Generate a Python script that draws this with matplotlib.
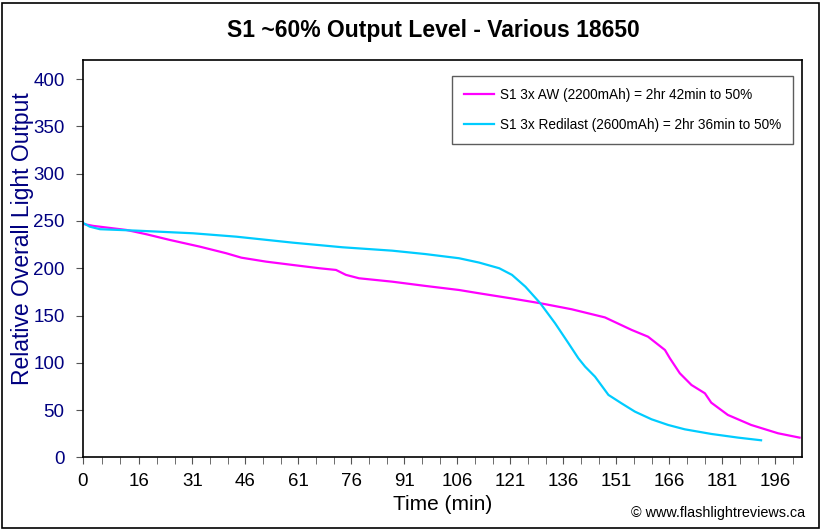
import matplotlib.pyplot as plt
from matplotlib.patches import Rectangle

# AW 2200mAh (magenta)
aw_t = [0, 3, 12.4, 18, 24.6, 33.1, 40.6, 44.9, 51.9, 59.4, 67, 71.7, 74.5, 78.2,
        87.6, 97, 106.5, 112.2, 121.5, 129.5, 138.4, 147.8, 155.4, 160, 164.8,
        166.2, 169, 172.3, 176.1, 177.9, 182.6, 189.2, 196.8, 202.9]
aw_v = [247, 244.8, 240.5, 236, 230, 222.9, 215.9, 211.2, 207, 203.5, 200, 198.2,
        193, 189.4, 185.8, 181.3, 177, 173.5, 168, 163, 156.6, 148, 134.7, 127.6,
        113.5, 104.7, 88.9, 76.5, 67.7, 57.8, 44.8, 34.2, 25.4, 20.8]

# Redilast 2600mAh (cyan)
rl_t = [0, 2, 4.9, 15.2, 31.2, 43.5, 59.4, 73.5, 87.6, 97, 106.5, 112.2, 117.9,
        121.5, 125.3, 129.5, 133.7, 137.5, 140.3, 142.2, 145, 148.8, 152.5, 156.3,
        161, 165.7, 170.4, 177.9, 185.5, 192]
rl_v = [248.2, 244, 241.3, 239.8, 237, 233.4, 227.1, 222.2, 218.6, 215, 210.6, 206,
        200, 193, 180.5, 163, 141.8, 120.6, 104.7, 95.9, 85.3, 66, 57.1, 48.3,
        40.2, 34.2, 29.6, 24.7, 20.8, 18]

x_labels = [0, 16, 31, 46, 61, 76, 91, 106, 121, 136, 151, 166, 181, 196]
y_ticks = [0, 50, 100, 150, 200, 250, 300, 350, 400]

navy = '#000080'
plt.rcParams['font.family'] = ['Liberation Sans', 'DejaVu Sans']

fig = plt.figure(figsize=(8.22, 5.30), dpi=100)
ax = fig.add_axes([0.1006, 0.1372, 0.9753 - 0.1006, 0.8862 - 0.1372])

ax.plot(aw_t, aw_v, color='#FF00FF', lw=1.6,
        label='S1 3x AW (2200mAh) = 2hr 42min to 50%')
ax.plot(rl_t, rl_v, color='#00CCFF', lw=1.6,
        label='S1 3x Redilast (2600mAh) = 2hr 36min to 50%')

ax.set_xlim(0, 203.5)
ax.set_ylim(0, 420)

minor = []
for a, b in zip(x_labels[:-1], x_labels[1:]):
    minor += [a + (b - a) / 3, a + 2 * (b - a) / 3]
minor.append(196 + 5)
ax.set_xticks(x_labels)
ax.set_xticklabels([str(v) for v in x_labels], fontsize=13.5)
ax.set_xticks(minor, minor=True)
ax.tick_params(axis='x', which='both', direction='out', length=5, color='#555555', pad=6)

ax.set_yticks(y_ticks)
ax.set_yticklabels([str(v) for v in y_ticks], fontsize=13.5, color=navy)
ax.tick_params(axis='y', direction='out', length=5, color='#555555', pad=8)

for s in ax.spines.values():
    s.set_linewidth(1.2)
    s.set_color('black')

ax.set_xlabel('Time (min)', fontsize=15, labelpad=4)
ax.set_ylabel('Relative Overall Light Output', fontsize=16.5, color=navy)
ax.yaxis.set_label_coords(-0.068, 0.552)

leg = ax.legend(loc='upper left', bbox_to_anchor=(0.5136, 0.9605), fontsize=9.8,
                frameon=True, fancybox=False, handlelength=2.2, labelspacing=1.15,
                borderpad=0.9, handletextpad=0.4, borderaxespad=0)
leg.get_frame().set_edgecolor('#333333')
leg.get_frame().set_linewidth(1.0)

fig.text(0.527, 0.943, 'S1 ~60% Output Level - Various 18650', ha='center', va='center',
         fontsize=16.5, fontweight='bold')
fig.text(0.979, 0.032, '\u00a9 www.flashlightreviews.ca', ha='right', va='center', fontsize=10.4)

fig.patches.append(Rectangle((0.003, 0.004), 0.993, 0.99, transform=fig.transFigure,
                             fill=False, edgecolor='black', lw=1.2))

fig.savefig('out.png', dpi=100)
